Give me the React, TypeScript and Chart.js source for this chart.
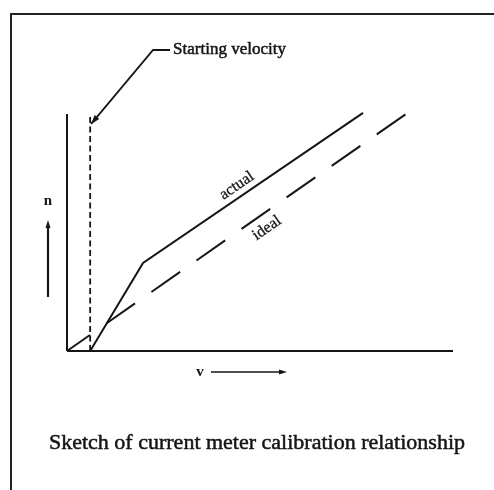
import React, { useEffect, useRef } from "react";
import { Chart, registerables } from "chart.js";

Chart.register(...registerables);

// Sketch values (arbitrary units: velocity v on x, revolutions n on y)
const AXIS_X = [0, 10];
const AXIS_Y = [0, 6];
const START_VELOCITY = 0.6;
const IDEAL_X = [0, 8.78];
const IDEAL_Y = [0, 6.0];
const ACTUAL_X = [0.6, 1.97, 7.67];
const ACTUAL_Y = [0, 2.23, 6.03];

const LABEL_ACTUAL = "actual";
const LABEL_IDEAL = "ideal";
const LABEL_START = "Starting velocity";
const LABEL_N = "n";
const LABEL_V = "v";
const CAPTION = "Sketch of current meter calibration relationship";

const INK = "#151515";
const SERIF = "'Liberation Serif', 'Times New Roman', serif";

const annotations = {
  id: "sketchAnnotations",
  afterDatasetsDraw(chart: any) {
    const { ctx, scales } = chart;
    const px = (v: number) => scales.x.getPixelForValue(v);
    const py = (v: number) => scales.y.getPixelForValue(v);
    ctx.save();
    ctx.strokeStyle = INK;
    ctx.fillStyle = INK;
    ctx.lineCap = "butt";

    const heavyText = (t: string, x: number, y: number, w: number) => {
      ctx.fillText(t, x, y);
      ctx.save();
      ctx.lineWidth = w;
      ctx.strokeText(t, x, y);
      ctx.restore();
    };

    const arrowHead = (x0: number, y0: number, x1: number, y1: number, len: number, half: number) => {
      const a = Math.atan2(y1 - y0, x1 - x0);
      ctx.beginPath();
      ctx.moveTo(x1, y1);
      ctx.lineTo(x1 - len * Math.cos(a) + half * Math.sin(a), y1 - len * Math.sin(a) - half * Math.cos(a));
      ctx.lineTo(x1 - len * Math.cos(a) - half * Math.sin(a), y1 - len * Math.sin(a) + half * Math.cos(a));
      ctx.closePath();
      ctx.fill();
    };

    // Leader for "Starting velocity"
    const tipX = px(START_VELOCITY) + 1, tipY = py(5.75);
    const elbowX = px(2.23), elbowY = py(7.62);
    const endX = px(2.67);
    ctx.lineWidth = 1.8;
    ctx.beginPath();
    ctx.moveTo(endX, elbowY);
    ctx.lineTo(elbowX, elbowY);
    ctx.lineTo(tipX, tipY);
    ctx.stroke();
    arrowHead(elbowX, elbowY, tipX, tipY, 9, 3);

    ctx.font = "17px " + SERIF;
    ctx.textBaseline = "middle";
    ctx.textAlign = "left";
    heavyText(LABEL_START, endX + 3, elbowY, 0.5);

    // Rotated line labels
    const slope = (xs: number[], ys: number[]) => {
      const n = xs.length;
      return Math.atan2(py(ys[n - 1]) - py(ys[n - 2]), px(xs[n - 1]) - px(xs[n - 2]));
    };
    ctx.font = "16px " + SERIF;
    ctx.textAlign = "center";
    ctx.save();
    ctx.translate(px(4.40), py(4.18));
    ctx.rotate(slope(ACTUAL_X, ACTUAL_Y));
    heavyText(LABEL_ACTUAL, 0, 0, 0.3);
    ctx.restore();
    ctx.save();
    ctx.translate(px(5.18), py(3.11));
    ctx.rotate(slope(IDEAL_X, IDEAL_Y));
    heavyText(LABEL_IDEAL, 0, 0, 0.3);
    ctx.restore();

    // n with up arrow
    const nx = px(0) - 19;
    ctx.font = "bold 15px " + SERIF;
    ctx.fillText(LABEL_N, nx, py(0) - 150);
    ctx.lineWidth = 2.2;
    ctx.beginPath();
    ctx.moveTo(nx, py(0) - 54);
    ctx.lineTo(nx, py(0) - 124);
    ctx.stroke();
    arrowHead(nx, py(0) - 54, nx, py(0) - 131, 8, 2.5);

    // v with right arrow
    const vy = py(0) + 21;
    ctx.fillText(LABEL_V, px(0) + 133, vy);
    ctx.lineWidth = 1.6;
    ctx.beginPath();
    ctx.moveTo(px(0) + 144, vy);
    ctx.lineTo(px(0) + 212, vy);
    ctx.stroke();
    arrowHead(px(0) + 144, vy, px(0) + 220, vy, 8, 2.5);

    // Caption
    ctx.font = "22px " + SERIF;
    heavyText(CAPTION, 257, 443, 0.5);
    ctx.restore();
  },
};

export default function App() {
  const ref = useRef<HTMLCanvasElement | null>(null);
  useEffect(() => {
    if (!ref.current) return;
    const pts = (xs: number[], ys: number[]) => xs.map((x, i) => ({ x, y: ys[i] }));
    const chart = new Chart(ref.current, {
      type: "scatter",
      data: {
        datasets: [
          { data: pts([AXIS_X[0], AXIS_X[1]], [0, 0]), showLine: true, borderColor: INK, borderWidth: 2.2, pointRadius: 0 },
          { data: pts([0, 0], [AXIS_Y[0], AXIS_Y[1]]), showLine: true, borderColor: INK, borderWidth: 2, pointRadius: 0 },
          { data: pts([START_VELOCITY, START_VELOCITY], [AXIS_Y[0], AXIS_Y[1]]), showLine: true, borderColor: INK, borderWidth: 1.8, borderDash: [6, 3.5], pointRadius: 0 },
          { data: pts(IDEAL_X, IDEAL_Y), showLine: true, borderColor: INK, borderWidth: 2, borderDash: [35, 20], borderDashOffset: 7, pointRadius: 0 },
          { data: pts(ACTUAL_X, ACTUAL_Y), showLine: true, borderColor: INK, borderWidth: 2, pointRadius: 0, tension: 0 },
        ],
      },
      options: {
        animation: false,
        responsive: false,
        layout: { padding: { left: 67, top: 114, right: 41, bottom: 139 } },
        plugins: { legend: { display: false }, tooltip: { enabled: false }, title: { display: false } },
        elements: { line: { borderCapStyle: "butt" } },
        scales: {
          x: { type: "linear", min: AXIS_X[0], max: AXIS_X[1], display: false },
          y: { type: "linear", min: AXIS_Y[0], max: AXIS_Y[1], display: false },
        },
        clip: false as any,
      },
      plugins: [annotations],
    });
    return () => chart.destroy();
  }, []);
  return (
    <div style={{ position: "absolute", left: 0, top: 0, width: 494, height: 490, background: "#fff" }}>
      <div style={{ position: "absolute", left: 10, top: 13, right: 0, bottom: 0, borderTop: "2px solid #222", borderLeft: "2px solid #222" }} />
      <canvas ref={ref} width={494} height={490} style={{ position: "absolute", left: 0, top: 0 }} />
    </div>
  );
}
